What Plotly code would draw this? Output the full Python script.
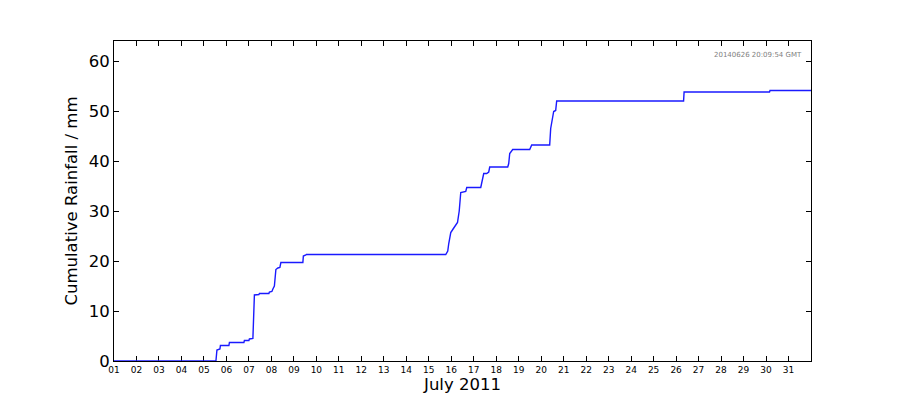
import plotly.graph_objects as go

# cumulative rainfall readings, July 2011
times = [
    "2011-07-01 00:00", "2011-07-05 12:48", "2011-07-05 13:52", "2011-07-05 17:04",
    "2011-07-05 17:36", "2011-07-06 02:40", "2011-07-06 03:12", "2011-07-06 18:40",
    "2011-07-06 19:12", "2011-07-07 00:00", "2011-07-07 00:32", "2011-07-07 04:16",
    "2011-07-07 05:52", "2011-07-07 10:40", "2011-07-07 11:12", "2011-07-07 21:20",
    "2011-07-07 21:52", "2011-07-08 00:32", "2011-07-08 01:36", "2011-07-08 03:12",
    "2011-07-08 04:48", "2011-07-08 06:56", "2011-07-08 09:04", "2011-07-08 10:08",
    "2011-07-09 09:36", "2011-07-09 10:08", "2011-07-09 12:48", "2011-07-09 13:20",
    "2011-07-15 18:08", "2011-07-15 20:16", "2011-07-15 21:20", "2011-07-15 23:28",
    "2011-07-16 01:36", "2011-07-16 06:40", "2011-07-16 08:30", "2011-07-16 10:08",
    "2011-07-16 15:28", "2011-07-16 16:32", "2011-07-17 07:28", "2011-07-17 08:32",
    "2011-07-17 09:36", "2011-07-17 10:40", "2011-07-17 13:52", "2011-07-17 16:00",
    "2011-07-17 17:04", "2011-07-18 12:16", "2011-07-18 13:20", "2011-07-18 14:24",
    "2011-07-18 17:36", "2011-07-19 11:44", "2011-07-19 13:52", "2011-07-20 09:04",
    "2011-07-20 10:08", "2011-07-20 12:16", "2011-07-20 13:20", "2011-07-20 15:28",
    "2011-07-20 16:32", "2011-07-26 08:00", "2011-07-26 08:32", "2011-07-30 03:44",
    "2011-07-30 04:16", "2011-07-31 23:59",
]
rain = [
    0.0, 0.0, 2.2, 2.4,
    3.1, 3.1, 3.7, 3.7,
    4.1, 4.1, 4.4, 4.5,
    13.2, 13.3, 13.5, 13.5,
    13.8, 13.9, 14.4, 15.0,
    18.3, 18.6, 18.7, 19.7,
    19.7, 21.0, 21.2, 21.3,
    21.3, 22.0, 23.5, 25.7,
    26.3, 27.7, 30.0, 33.7,
    33.9, 34.7, 34.7, 35.5,
    36.5, 37.5, 37.5, 37.8,
    38.8, 38.8, 39.5, 41.5,
    42.3, 42.3, 43.2, 43.2,
    46.5, 48.5, 49.9, 50.1,
    52.0, 52.0, 53.8, 53.8,
    54.1, 54.1,
]
day_ticks = ["2011-07-%02d" % d for d in range(1, 32)]
day_labels = ["%02d" % d for d in range(1, 32)]
stamp = "20140626 20:09:54 GMT"

fig = go.Figure()
fig.add_trace(go.Scatter(x=times, y=rain, mode="lines",
                         line=dict(color="#1a1aff", width=1.4), showlegend=False))

# page gets shifted by the body margin, so pull the margins in a bit
fig.update_layout(
    width=900, height=400,
    margin=dict(l=106, r=97, t=33, b=47),
    paper_bgcolor="white", plot_bgcolor="white",
    font=dict(family="DejaVu Sans", color="black"),
)
fig.update_xaxes(
    type="date", range=["2011-07-01", "2011-08-01"],
    tickvals=day_ticks, ticktext=day_labels,
    ticks="inside", ticklen=5, tickcolor="black", mirror="ticks",
    showline=True, linecolor="black", linewidth=1, showgrid=False, layer="below traces",
    tickfont=dict(size=9), title=dict(text="July 2011", font=dict(size=16.5), standoff=2),
)
fig.update_yaxes(
    range=[0, 64], dtick=10,
    ticks="inside", ticklen=5, tickcolor="black", mirror="ticks",
    showline=True, linecolor="black", linewidth=1, showgrid=False, zeroline=False,
    layer="below traces",
    tickfont=dict(size=16.5), title=dict(text="Cumulative Rainfall / mm", font=dict(size=16.5), standoff=6),
)
fig.add_annotation(text=stamp, xref="paper", yref="paper", x=0.99, y=0.975,
                   xanchor="right", yanchor="top", showarrow=False,
                   font=dict(size=7, color="grey"))

fig.write_html("out.html")
